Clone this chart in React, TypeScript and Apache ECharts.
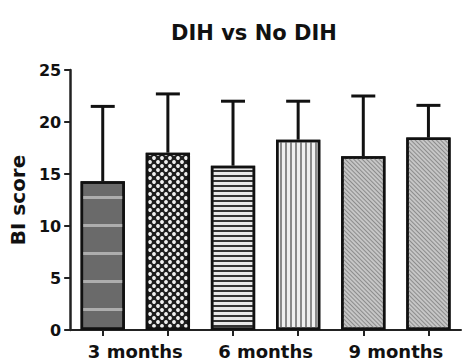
import React, { useEffect, useRef } from "react";
import * as echarts from "echarts";

const barCategories = ["3m-DIH", "3m-NoDIH", "6m-DIH", "6m-NoDIH", "9m-DIH", "9m-NoDIH"];
const groupLabels = ["3 months", "6 months", "9 months"];
const meanValues = [14.3, 17.05, 15.8, 18.3, 16.7, 18.5];
const upperValues = [21.5, 22.7, 22.0, 22.0, 22.5, 21.6];
const yTicks = [0, 5, 10, 15, 20, 25];

const FONT = "DejaVu Sans";

const fills = ["#6a6a6a", "#1e1e1e", "#e8e8e8", "#f0f0f0", "#c6c6c6", "#c6c6c6"];
const decals: any[] = [
  { symbol: "rect", color: "rgba(255,255,255,0.45)", dashArrayX: [1, 0], dashArrayY: [3, 25], symbolSize: 1 },
  { symbol: "circle", color: "#f0f0f0", dashArrayX: [[4, 4], [0, 4, 4, 0]], dashArrayY: [4, 0], symbolSize: 0.95 },
  { symbol: "rect", color: "#333333", dashArrayX: [1, 0], dashArrayY: [2, 3], symbolSize: 1 },
  { symbol: "rect", color: "#8a8a8a", dashArrayX: [2, 3], dashArrayY: [1, 0], symbolSize: 1 },
  { symbol: "rect", color: "#8c8c8c", dashArrayX: [1, 0], dashArrayY: [1, 2], rotation: Math.PI / 4, symbolSize: 1 },
  { symbol: "rect", color: "#8c8c8c", dashArrayX: [1, 0], dashArrayY: [1, 2], rotation: Math.PI / 4, symbolSize: 1 },
];

export default function App() {
  const ref = useRef<HTMLDivElement>(null);
  useEffect(() => {
    if (!ref.current) return;
    const chart = echarts.init(ref.current, undefined, { renderer: "svg" });
    chart.setOption({
      animation: false,
      backgroundColor: "#ffffff",
      title: {
        text: "DIH vs No DIH",
        left: 166,
        top: 17,
        textStyle: { fontFamily: FONT, fontSize: 21, fontWeight: "bold", color: "#111" },
      },
      grid: { left: 70, right: 1, top: 70, bottom: 33 },
      xAxis: [
        {
          type: "category",
          data: barCategories,
          axisLine: { lineStyle: { color: "#222", width: 2 } },
          axisTick: { show: true, alignWithLabel: true, interval: 0, length: 6, lineStyle: { color: "#222", width: 2 } },
          axisLabel: { show: false },
        },
        {
          type: "category",
          data: groupLabels,
          position: "bottom",
          axisLine: { show: false },
          axisTick: { show: false },
          axisLabel: { margin: 12, fontFamily: FONT, fontSize: 18, fontWeight: "bold", color: "#111" },
        },
      ],
      yAxis: {
        type: "value",
        min: yTicks[0],
        max: yTicks[yTicks.length - 1],
        interval: 5,
        name: "BI score",
        nameLocation: "middle",
        nameGap: 36,
        nameTextStyle: { fontFamily: FONT, fontSize: 20, fontWeight: "bold", color: "#111" },
        axisLine: { show: true, lineStyle: { color: "#222", width: 2.5 } },
        axisTick: { show: true, length: 6, lineStyle: { color: "#222", width: 2 } },
        axisLabel: { margin: 9, fontFamily: FONT, fontSize: 16, fontWeight: "bold", color: "#111" },
        splitLine: { show: false },
      },
      series: [
        {
          type: "custom",
          xAxisIndex: 0,
          z: 1,
          data: meanValues.map((m, i) => [i, m, upperValues[i]]),
          renderItem: (params: any, api: any) => {
            const i = api.value(0);
            const base = api.coord([i, api.value(1)]);
            const top = api.coord([i, api.value(2)]);
            const half = 12;
            const style = { stroke: "#111", lineWidth: 3 };
            return {
              type: "group",
              children: [
                { type: "line", shape: { x1: base[0], y1: base[1], x2: top[0], y2: top[1] }, style },
                { type: "line", shape: { x1: top[0] - half, y1: top[1], x2: top[0] + half, y2: top[1] }, style },
              ],
            };
          },
        },
        {
          type: "bar",
          xAxisIndex: 0,
          z: 2,
          barWidth: "68%",
          data: meanValues.map((v, i) => ({
            value: v,
            itemStyle: { color: fills[i], decal: decals[i], borderColor: "#111", borderWidth: 2.5 },
          })),
        },
      ],
    });
    return () => chart.dispose();
  }, []);
  return <div ref={ref} style={{ width: 462, height: 363, position: "absolute", left: 0, top: 0 }} />;
}
